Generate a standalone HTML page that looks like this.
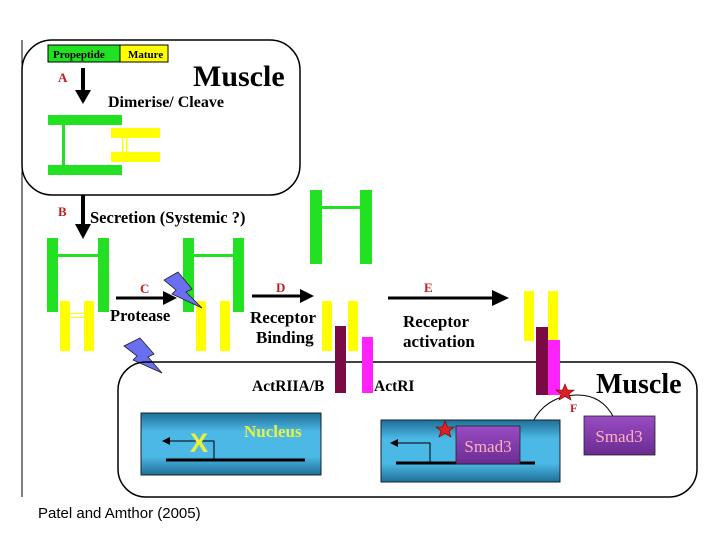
<!DOCTYPE html>
<html><head><meta charset="utf-8"><style>
html,body{margin:0;padding:0;background:#fff;}
svg{display:block;}
.s{font-family:"Liberation Serif",serif;font-weight:bold;}
</style></head><body>
<svg width="720" height="540" viewBox="0 0 720 540" xmlns="http://www.w3.org/2000/svg">
<defs>
<linearGradient id="nb" x1="0" y1="0" x2="0" y2="1">
<stop offset="0" stop-color="#1f6f96"/><stop offset="0.3" stop-color="#4cb8e6"/><stop offset="0.7" stop-color="#4cb8e6"/><stop offset="1" stop-color="#1f6f96"/>
</linearGradient>
<linearGradient id="pb" x1="0" y1="0" x2="0" y2="1">
<stop offset="0" stop-color="#9a4cc4"/><stop offset="1" stop-color="#6a2c90"/>
</linearGradient>
<marker id="ah" markerWidth="8" markerHeight="8" refX="6" refY="4" orient="auto" markerUnits="userSpaceOnUse"><path d="M0,0 L8,4 L0,8 z" fill="#000"/></marker>
</defs>
<line x1="22" y1="40" x2="22" y2="497" stroke="#000" stroke-width="1"/>
<rect x="22" y="40" width="278" height="155" rx="30" fill="none" stroke="#000" stroke-width="1.5"/>
<rect x="48" y="45" width="72" height="17" fill="#22e022" stroke="#000"/>
<rect x="120" y="45" width="48" height="17" fill="#ffff00" stroke="#000"/>
<text x="53" y="58" class="s" font-size="11">Propeptide</text>
<text x="128" y="58" class="s" font-size="11">Mature</text>
<text x="58" y="82" class="s" font-size="13" fill="#c02020">A</text>
<line x1="83" y1="68" x2="83" y2="92" stroke="#000" stroke-width="4"/>
<path d="M75,90 L91,90 L83,104 z"/>
<text x="193" y="86" class="s" font-size="30">Muscle</text>
<text x="108" y="107" class="s" font-size="16">Dimerise/ Cleave</text>
<rect x="48" y="115" width="74" height="10" fill="#22e022"/>
<rect x="48" y="165" width="74" height="10" fill="#22e022"/>
<rect x="62" y="125" width="3" height="40" fill="#22e022"/>
<rect x="111" y="128" width="49" height="10" fill="#ffff00"/>
<rect x="111" y="152" width="49" height="10" fill="#ffff00"/>
<rect x="122" y="138" width="1.5" height="14" fill="#ffff00"/><rect x="126" y="138" width="1.5" height="14" fill="#ffff00"/>
<text x="58" y="216" class="s" font-size="13" fill="#c02020">B</text>
<line x1="83" y1="195" x2="83" y2="226" stroke="#000" stroke-width="4"/>
<path d="M75,224 L91,224 L83,239 z"/>
<text x="90" y="223" class="s" font-size="16.5">Secretion (Systemic ?)</text>
<g fill="#22e022"><rect x="47" y="238" width="11" height="74"/><rect x="98" y="238" width="11" height="74"/><rect x="58" y="254" width="40" height="3"/></g>
<g fill="#ffff00"><rect x="60" y="301" width="10" height="50"/><rect x="84" y="301" width="10" height="50"/><rect x="70" y="313" width="14" height="1"/><rect x="70" y="317" width="14" height="1"/></g>
<text x="140" y="293" class="s" font-size="13" fill="#c02020">C</text>
<line x1="116" y1="298" x2="165" y2="298" stroke="#000" stroke-width="3"/>
<path d="M163,291 L177,298 L163,305 z"/>
<text x="110" y="321" class="s" font-size="16.5">Protease</text>
<g fill="#22e022"><rect x="183" y="238" width="11" height="74"/><rect x="233" y="238" width="11" height="74"/><rect x="194" y="254" width="39" height="3"/></g>
<g fill="#ffff00"><rect x="196" y="301" width="10" height="50"/><rect x="220" y="301" width="10" height="50"/></g>
<path d="M178,272 L164,280 L176,290 L172,294 L202,308 L186,292 L192,289 Z" fill="#6a6ef0" stroke="#222" stroke-width="0.8"/>
<path d="M140,338 L124,346 L137,356 L133,360 L162,373 L148,357 L154,354 Z" fill="#6a6ef0" stroke="#222" stroke-width="0.8"/>
<g fill="#22e022"><rect x="310" y="190" width="12" height="74"/><rect x="360" y="190" width="12" height="74"/><rect x="322" y="206" width="38" height="3"/></g>
<text x="276" y="292" class="s" font-size="13" fill="#c02020">D</text>
<line x1="252" y1="296" x2="302" y2="296" stroke="#000" stroke-width="3"/>
<path d="M300,289 L314,296 L300,303 z"/>
<text x="250" y="323" class="s" font-size="17">Receptor</text>
<text x="256" y="343" class="s" font-size="17">Binding</text>
<rect x="118" y="362" width="579" height="135" rx="28" fill="none" stroke="#000" stroke-width="1.5"/>
<g fill="#ffff00"><rect x="322" y="301" width="10" height="50"/><rect x="348" y="301" width="10" height="50"/></g>
<rect x="335" y="326" width="11" height="67" fill="#7a0a44"/>
<rect x="362" y="337" width="11" height="56" fill="#ff22ff"/>
<text x="424" y="292" class="s" font-size="13" fill="#c02020">E</text>
<line x1="388" y1="298" x2="494" y2="298" stroke="#000" stroke-width="3"/>
<path d="M492,290 L509,298 L492,306 z"/>
<text x="403" y="327" class="s" font-size="17">Receptor</text>
<text x="403" y="347" class="s" font-size="17">activation</text>
<g fill="#ffff00"><rect x="524" y="291" width="10" height="50"/><rect x="548" y="291" width="10" height="50"/></g>
<rect x="536" y="327" width="12" height="68" fill="#7a0a44"/>
<rect x="548" y="340" width="12" height="55" fill="#ff22ff"/>
<text x="252" y="391" class="s" font-size="15.5">ActRIIA/B</text>
<text x="374" y="391" class="s" font-size="15.5">ActRI</text>
<text x="596" y="393" class="s" font-size="28">Muscle</text>
<path d="M614,418 Q600,390 566,396 Q540,402 530,428" fill="none" stroke="#000" stroke-width="1" marker-end="url(#ah)"/>
<path d="M565,384 L567.5,390 L574,390 L569,394 L571,400 L565,396.5 L559,400 L561,394 L556,390 L562.5,390 Z" fill="#e02020" stroke="#600" stroke-width="0.6"/>
<text x="570" y="412" class="s" font-size="12" fill="#c02020">F</text>
<rect x="141" y="413" width="180" height="62" fill="url(#nb)" stroke="#123" stroke-width="1"/>
<text x="244" y="437" class="s" font-size="17" fill="#e8f040">Nucleus</text>
<line x1="166" y1="460" x2="305" y2="460" stroke="#000" stroke-width="3"/>
<polyline points="214,460 214,441 170,441" fill="none" stroke="#000" stroke-width="1"/>
<path d="M170,437 L162,441 L170,445 z"/>
<text x="190" y="452" font-family="Liberation Sans,sans-serif" font-weight="bold" font-size="27" fill="#e8f040">X</text>
<rect x="381" y="420" width="179" height="62" fill="url(#nb)" stroke="#123" stroke-width="1"/>
<line x1="396" y1="463" x2="535" y2="463" stroke="#000" stroke-width="3"/>
<polyline points="430,463 430,443 397,443" fill="none" stroke="#000" stroke-width="1"/>
<path d="M398,439 L390,443 L398,447 z"/>
<rect x="456" y="426" width="64" height="38" fill="url(#pb)" stroke="#222" stroke-width="0.8"/>
<text x="488" y="452" text-anchor="middle" font-family="Liberation Serif,serif" font-size="17" fill="#ffb0c0">Smad3</text>
<path d="M445,421 L447.5,427 L454,427 L449,431 L451,437 L445,433.5 L439,437 L441,431 L436,427 L442.5,427 Z" fill="#e02020" stroke="#600" stroke-width="0.6"/>
<rect x="584" y="416" width="71" height="39" fill="url(#pb)" stroke="#222" stroke-width="0.8"/>
<text x="619" y="442" text-anchor="middle" font-family="Liberation Serif,serif" font-size="17" fill="#ffb0c0">Smad3</text>
<text x="38" y="518" font-family="Liberation Sans,sans-serif" font-size="15" fill="#000">Patel and Amthor (2005)</text>
</svg>
</body></html>
